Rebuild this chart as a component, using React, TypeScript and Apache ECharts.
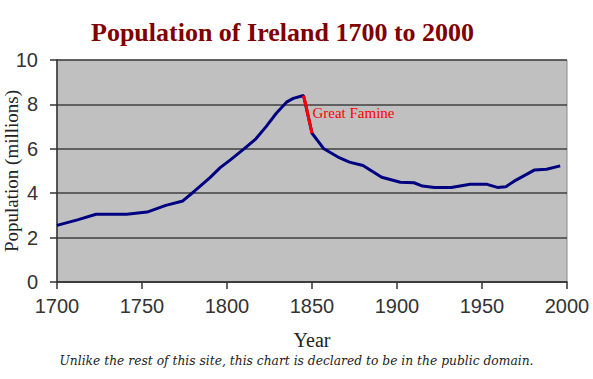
import React, { useEffect, useRef } from "react";
import * as echarts from "echarts";

const titleText = "Population of Ireland 1700 to 2000";
const footerText = "Unlike the rest of this site, this chart is declared to be in the public domain.";
const famineLabel = "Great Famine";

// Population (millions) by year
const years = [1700, 1712, 1723, 1741, 1753, 1764, 1774, 1781, 1790, 1796, 1802, 1810, 1817, 1823, 1829, 1835, 1839, 1845,
  1850, 1857, 1866, 1872, 1880, 1891, 1902, 1910, 1915, 1922, 1932, 1943, 1953, 1959, 1964, 1970, 1981, 1988, 1996];
const population = [2.55, 2.8, 3.05, 3.05, 3.15, 3.45, 3.65, 4.1, 4.7, 5.15, 5.5, 6.0, 6.45, 7.0, 7.6, 8.1, 8.27, 8.4,
  6.7, 6.0, 5.6, 5.4, 5.25, 4.72, 4.49, 4.47, 4.32, 4.26, 4.26, 4.4, 4.4, 4.26, 4.29, 4.59, 5.05, 5.08, 5.23];

const famineYears = [1845, 1846, 1847, 1848, 1849, 1850];
const famineValues = [8.4, 8.1, 7.75, 7.4, 7.05, 6.7];
const famineLabelYear = 1847;
const famineLabelValue = 7.6;

export default function App() {
  const ref = useRef<HTMLDivElement>(null);
  useEffect(() => {
    if (!ref.current) return;
    const chart = echarts.init(ref.current, undefined, { renderer: "svg" });
    const axisText = { fontFamily: "Liberation Sans", fontSize: 20, color: "#333" };
    chart.setOption({
      animation: false,
      backgroundColor: "#ffffff",
      title: {
        text: titleText,
        left: 91,
        top: 19,
        padding: 0,
        textStyle: { fontFamily: "Liberation Serif", fontWeight: "bold", fontSize: 26, color: "#800000" },
      },
      graphic: [
        {
          type: "text",
          left: "center",
          top: 355,
          style: {
            text: footerText,
            fontFamily: "DejaVu Serif",
            fontStyle: "italic",
            fontSize: 12.3,
            fill: "#222",
          },
        },
      ],
      grid: {
        left: 57,
        right: 26,
        top: 60,
        bottom: 97,
        outerBoundsMode: "none",
        containLabel: false,
        show: true,
        backgroundColor: "#c0c0c0",
        borderColor: "#8a8a8a",
        borderWidth: 1,
      },
      xAxis: {
        type: "value",
        min: 1700,
        max: 2000,
        interval: 50,
        name: "Year",
        nameLocation: "middle",
        nameGap: 48,
        nameMoveOverlap: false,
        nameTextStyle: { fontFamily: "Liberation Serif", fontSize: 20, color: "#222" },
        axisLine: { show: true, lineStyle: { color: "#333", width: 1.5 } },
        axisTick: { show: true, length: 7, lineStyle: { color: "#333", width: 1.5 } },
        axisLabel: { ...axisText, margin: 14, formatter: (v: number) => String(v) },
        splitLine: { show: false },
      },
      yAxis: {
        type: "value",
        min: 0,
        max: 10,
        interval: 2,
        name: "Population (millions)",
        nameLocation: "middle",
        nameGap: 36,
        nameMoveOverlap: false,
        nameTextStyle: { fontFamily: "Liberation Serif", fontSize: 19, color: "#222" },
        axisLine: { show: true, lineStyle: { color: "#333", width: 1.5 } },
        axisTick: { show: true, length: 7, lineStyle: { color: "#333", width: 1.5 } },
        axisLabel: { ...axisText, margin: 19 },
        splitLine: { show: true, lineStyle: { color: "#404040", width: 1.5 } },
      },
      series: [
        {
          type: "line",
          data: years.map((y, i) => [y, population[i]]),
          showSymbol: false,
          symbol: "none",
          lineStyle: { color: "#000080", width: 3 },
          z: 3,
        },
        {
          type: "line",
          data: famineYears.map((y, i) => [y, famineValues[i]]),
          showSymbol: false,
          symbol: "none",
          lineStyle: { color: "#ff0000", width: 3 },
          z: 4,
          markPoint: {
            silent: true,
            data: [
              {
                coord: [famineLabelYear, famineLabelValue],
                symbol: "circle",
                symbolSize: 1,
                itemStyle: { color: "rgba(0,0,0,0)" },
                label: {
                  show: true,
                  formatter: famineLabel,
                  position: "right",
                  distance: 5,
                  fontFamily: "Liberation Serif",
                  fontSize: 15,
                  color: "#ff0000",
                },
              },
            ],
          },
        },
      ],
    });
    return () => chart.dispose();
  }, []);
  return (
    <div
      ref={ref}
      style={{ position: "fixed", left: 0, top: 0, width: 593, height: 379 }}
    />
  );
}
